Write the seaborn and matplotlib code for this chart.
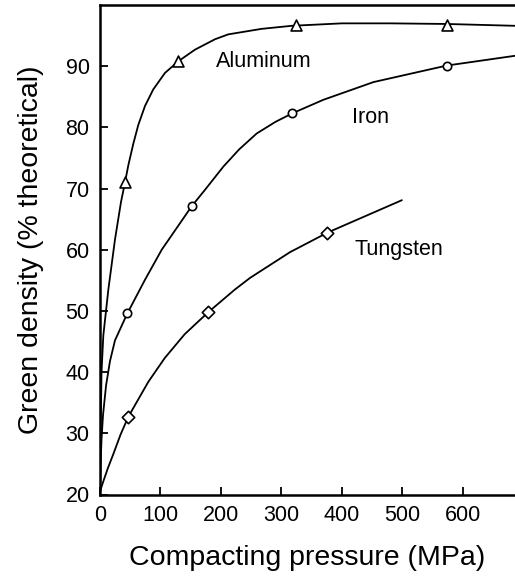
import matplotlib
matplotlib.use("Agg")
import matplotlib.pyplot as plt
import seaborn as sns
import pandas as pd

sns.set_theme(style="white")
plt.rcParams['font.family'] = ['Liberation Sans', 'DejaVu Sans']

# Curve traces
al_x = [0, 1, 2.5, 5.5, 13.8, 24.8, 34.7, 41.3, 46.8, 55, 63.3, 74.4, 88, 107.4, 129.4,
        157, 190, 212, 267, 317, 400, 480, 573, 686]
al_y = [20, 30, 40, 46, 53.5, 61.7, 67.8, 71.0, 73.8, 77.3, 80.4, 83.5, 86.2, 88.9, 90.8,
        92.7, 94.4, 95.2, 96.1, 96.6, 97.0, 97.0, 96.9, 96.6]

fe_x = [0, 1, 2.5, 5, 10, 16.5, 24.8, 45.2, 74.4, 102, 151.5, 173.6, 204, 230, 259, 290,
        318, 369, 452, 573, 686]
fe_y = [20, 25, 29, 33, 37.8, 41.8, 45.2, 49.6, 55.1, 60.0, 67.1, 69.8, 73.6, 76.4, 79.0,
        80.9, 82.3, 84.5, 87.4, 90.1, 91.7]

w_x = [0, 6, 13, 22, 34, 46.8, 79.8, 107, 140, 179, 223, 248, 314, 376, 441, 499]
w_y = [20.5, 22.3, 24.3, 26.6, 29.8, 32.7, 38.4, 42.3, 46.2, 49.8, 53.5, 55.4, 59.6, 62.8,
       65.6, 68.1]

# Marker positions
al_mx = [41.3, 129.4, 324, 573]
al_my = [71.0, 90.8, 96.8, 96.8]
fe_mx = [45.2, 151.5, 318, 573]
fe_my = [49.6, 67.1, 82.3, 90.1]
w_mx = [46.8, 179, 376]
w_my = [32.7, 49.8, 62.8]

labels = ["Aluminum", "Iron", "Tungsten"]
label_x = [192, 416, 421]
label_y = [89.9, 80.75, 59.2]

x_ticks = [0, 100, 200, 300, 400, 500, 600]
y_ticks = [20, 30, 40, 50, 60, 70, 80, 90]

W, H = 515, 577
fig = plt.figure(figsize=(W / 100, H / 100), dpi=100)
ax = fig.add_axes([100 / W, (H - 494.5) / H, 415 / W, (494.5 - 5) / H])

for xs, ys in [(al_x, al_y), (fe_x, fe_y), (w_x, w_y)]:
    d = pd.DataFrame({"x": xs, "y": ys})
    sns.lineplot(data=d, x="x", y="y", ax=ax, color="black", lw=1.3,
                 sort=False, estimator=None)

for mx, my, mk, ms in [(al_mx, al_my, "^", 62), (fe_mx, fe_my, "o", 36), (w_mx, w_my, "D", 40)]:
    d = pd.DataFrame({"x": mx, "y": my})
    sns.scatterplot(data=d, x="x", y="y", ax=ax, marker=mk, s=ms,
                    facecolor="white", edgecolor="black", linewidth=1.2, zorder=3)

for t, tx, ty in zip(labels, label_x, label_y):
    ax.text(tx, ty, t, fontsize=15.5, ha="left", va="baseline", color="black")

ax.set_xlim(0, 686)
ax.set_ylim(20, 100)
ax.set_xticks(x_ticks)
ax.set_yticks(y_ticks)
ax.tick_params(direction="in", length=6, width=1.3, labelsize=15.5, colors="black",
               pad=7.5, left=True, bottom=True)
for s in ["left", "bottom", "top"]:
    ax.spines[s].set_color("black")
    ax.spines[s].set_linewidth(1.8)
ax.spines["right"].set_visible(False)
ax.set_xlabel("Compacting pressure (MPa)", fontsize=20.5, labelpad=14, color="black")
ax.set_ylabel("Green density (% theoretical)", fontsize=20.5, labelpad=15.5, color="black")

fig.savefig("out.png", dpi=100)
